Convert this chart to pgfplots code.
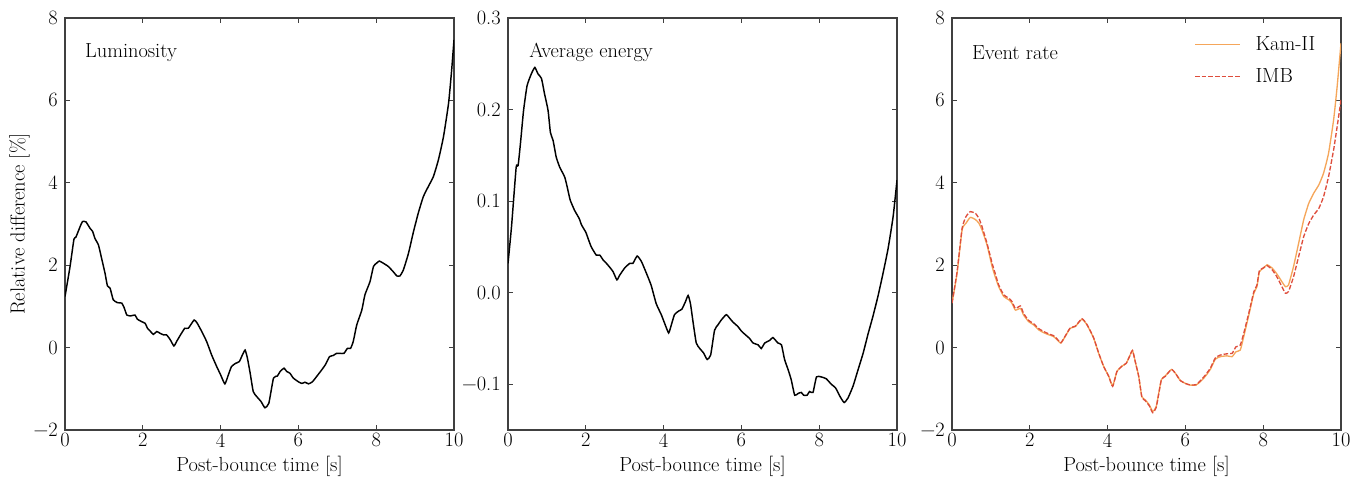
\documentclass[border=0pt]{standalone}
\usepackage{pgfplots}
\pgfplotsset{compat=1.18}
\definecolor{kam}{RGB}{245,166,90}
\definecolor{imb}{RGB}{222,77,60}
\newcommand{\fs}{\fontsize{15.3}{17.5}\selectfont}
\pgfplotsset{
  panel/.style={
    scale only axis, width=291.75pt, height=309pt, anchor=south west,
    xmin=0, xmax=10, xtick={0,2,4,6,8,10},
    xticklabels={0,2,4,6,8,10},
    tick align=inside, major tick length=3.5pt,
    minor tick num=0,
    axis line style={line width=0.8pt, black!75},
    every tick/.style={black!75, line width=0.8pt},
    tick label style={font=\fs},
    label style={font=\fs},
    xlabel={Post-bounce time [s]},
    xticklabel style={yshift=1pt},
    yticklabel style={xshift=-2pt},
    clip=true,
  }
}
\begin{document}
\begin{tikzpicture}
\path[use as bounding box] (0,0) rectangle (1021.5pt,359.25pt);
% Panel 1
\begin{axis}[panel, at={(48.75pt,36.75pt)}, ymin=-2, ymax=8,
  ytick={-2,0,2,4,6,8}, yticklabels={−2,0,2,4,6,8},
  ylabel={Relative difference [\%]}, ylabel style={yshift=-4pt}]
\addplot[black, line width=1.1pt, smooth, tension=0.3] coordinates {
(0,1.24)(0.13,1.97)(0.23,2.63)(0.28,2.68)(0.39,2.94)(0.45,3.06)(0.54,3.05)(0.64,2.9)(0.71,2.82)(0.77,2.65)(0.86,2.49)(0.94,2.17)(1.03,1.80)(1.09,1.50)(1.16,1.44)(1.24,1.16)(1.35,1.09)(1.46,1.08)(1.52,0.97)(1.59,0.79)(1.69,0.77)(1.80,0.79)(1.86,0.69)(1.97,0.63)(2.06,0.59)(2.12,0.47)(2.20,0.39)(2.27,0.32)(2.36,0.39)(2.44,0.35)(2.53,0.31)(2.61,0.31)(2.70,0.20)(2.80,0.04)(2.87,0.15)(2.97,0.31)(3.08,0.47)(3.17,0.47)(3.32,0.67)(3.40,0.59)(3.51,0.40)(3.64,0.15)(3.77,-0.18)(3.90,-0.46)(4.00,-0.66)(4.11,-0.88)(4.20,-0.66)(4.28,-0.46)(4.39,-0.38)(4.48,-0.34)(4.56,-0.18)(4.63,-0.06)(4.69,-0.26)(4.76,-0.62)(4.84,-1.07)(4.93,-1.19)(5.04,-1.31)(5.14,-1.46)(5.24,-1.35)(5.36,-0.74)(5.46,-0.69)(5.53,-0.58)(5.63,-0.50)(5.70,-0.58)(5.78,-0.62)(5.87,-0.74)(6.00,-0.83)(6.09,-0.87)(6.17,-0.84)(6.26,-0.88)(6.36,-0.83)(6.47,-0.70)(6.60,-0.54)(6.69,-0.42)(6.80,-0.22)(6.90,-0.19)(6.98,-0.14)(7.07,-0.14)(7.17,-0.14)(7.26,-0.02)(7.34,-0.02)(7.41,0.15)(7.50,0.55)(7.63,0.91)(7.71,1.28)(7.84,1.60)(7.93,1.97)(8.01,2.05)(8.08,2.10)(8.18,2.05)(8.31,1.97)(8.44,1.84)(8.53,1.74)(8.61,1.74)(8.70,1.89)(8.83,2.29)(8.95,2.78)(9.08,3.26)(9.21,3.66)(9.34,3.91)(9.47,4.15)(9.60,4.56)(9.73,5.12)(9.86,5.93)(9.94,6.74)(10.0,7.47)};
\node[anchor=west, inner sep=0pt, font=\fs] at (rel axis cs:0.051,0.917) {Luminosity};
\end{axis}
% Panel 2
\begin{axis}[panel, at={(381pt,36.75pt)}, ymin=-0.15, ymax=0.3,
  ytick={-0.1,0,0.1,0.2,0.3}, yticklabels={−0.1,0.0,0.1,0.2,0.3}]
\addplot[black, line width=1.1pt, smooth, tension=0.3] coordinates {
(0,0.032)(0.09,0.072)(0.21,0.137)(0.26,0.139)(0.32,0.163)(0.40,0.199)(0.49,0.226)(0.60,0.239)(0.69,0.246)(0.77,0.239)(0.86,0.234)(0.94,0.217)(1.03,0.199)(1.09,0.175)(1.16,0.166)(1.24,0.148)(1.33,0.137)(1.46,0.126)(1.54,0.112)(1.60,0.101)(1.71,0.090)(1.83,0.081)(1.89,0.074)(2.00,0.066)(2.06,0.059)(2.14,0.050)(2.27,0.041)(2.36,0.041)(2.44,0.036)(2.53,0.032)(2.61,0.028)(2.70,0.023)(2.80,0.014)(2.87,0.019)(3.00,0.027)(3.13,0.032)(3.21,0.032)(3.32,0.040)(3.43,0.034)(3.56,0.021)(3.68,0.008)(3.81,-0.012)(3.94,-0.024)(4.04,-0.035)(4.13,-0.044)(4.20,-0.035)(4.28,-0.024)(4.39,-0.020)(4.47,-0.018)(4.56,-0.010)(4.63,-0.003)(4.69,-0.012)(4.76,-0.033)(4.84,-0.055)(4.93,-0.061)(5.03,-0.066)(5.12,-0.073)(5.21,-0.068)(5.31,-0.041)(5.40,-0.035)(5.48,-0.030)(5.61,-0.024)(5.70,-0.028)(5.78,-0.032)(5.91,-0.037)(6.00,-0.042)(6.13,-0.047)(6.21,-0.050)(6.30,-0.055)(6.43,-0.057)(6.51,-0.061)(6.60,-0.055)(6.73,-0.052)(6.81,-0.049)(6.94,-0.055)(7.03,-0.057)(7.11,-0.073)(7.20,-0.084)(7.28,-0.095)(7.37,-0.112)(7.46,-0.110)(7.54,-0.109)(7.60,-0.112)(7.69,-0.112)(7.75,-0.108)(7.84,-0.109)(7.93,-0.092)(8.05,-0.092)(8.18,-0.094)(8.31,-0.100)(8.42,-0.104)(8.53,-0.113)(8.64,-0.120)(8.74,-0.115)(8.87,-0.102)(9.00,-0.084)(9.13,-0.066)(9.25,-0.046)(9.38,-0.026)(9.51,-0.004)(9.64,0.021)(9.77,0.048)(9.90,0.083)(10.0,0.123)};
\node[anchor=west, inner sep=0pt, font=\fs] at (rel axis cs:0.054,0.917) {Average energy};
\end{axis}
% Panel 3
\begin{axis}[panel, at={(714pt,36.75pt)}, ymin=-2, ymax=8,
  ytick={-2,0,2,4,6,8}, yticklabels={−2,0,2,4,6,8},
  legend style={draw=none, fill=none, at={(rel axis cs:0.622,0.962)}, anchor=north west,
    font=\fs, inner sep=0pt, row sep=8pt, column sep=9pt,
    nodes={inner sep=2pt}},
  legend cell align=left,
  legend image code/.code={\draw[#1, sharp plot, line width=1.2pt] (0pt,0pt) -- (33.75pt,0pt);}]
\addplot[kam, line width=1pt, smooth, tension=0.3] coordinates {
(0,1.08)(0.13,1.80)(0.26,2.86)(0.36,3.02)(0.47,3.16)(0.60,3.11)(0.69,3.02)(0.77,2.86)(0.90,2.49)(1.03,1.97)(1.11,1.72)(1.20,1.48)(1.33,1.24)(1.46,1.16)(1.54,1.08)(1.63,0.91)(1.76,0.95)(1.84,0.79)(1.97,0.63)(2.10,0.55)(2.23,0.43)(2.36,0.36)(2.49,0.31)(2.61,0.27)(2.70,0.19)(2.80,0.11)(2.91,0.27)(3.04,0.47)(3.17,0.51)(3.34,0.69)(3.47,0.55)(3.64,0.23)(3.77,-0.14)(3.90,-0.46)(4.03,-0.70)(4.13,-0.93)(4.24,-0.58)(4.37,-0.45)(4.48,-0.38)(4.56,-0.22)(4.64,-0.07)(4.71,-0.34)(4.80,-0.70)(4.88,-1.19)(4.97,-1.27)(5.07,-1.39)(5.16,-1.55)(5.25,-1.43)(5.38,-0.78)(5.48,-0.69)(5.64,-0.53)(5.74,-0.62)(5.87,-0.80)(6.00,-0.87)(6.13,-0.91)(6.27,-0.91)(6.38,-0.83)(6.51,-0.70)(6.64,-0.53)(6.77,-0.28)(6.90,-0.22)(7.07,-0.20)(7.20,-0.22)(7.30,-0.10)(7.41,-0.06)(7.50,0.27)(7.63,0.79)(7.76,1.32)(7.84,1.48)(7.90,1.84)(8.01,1.93)(8.10,2.01)(8.23,1.93)(8.35,1.79)(8.48,1.60)(8.57,1.48)(8.65,1.52)(8.78,1.97)(8.91,2.53)(9.04,3.10)(9.17,3.50)(9.30,3.75)(9.43,3.95)(9.55,4.23)(9.68,4.72)(9.81,5.53)(9.90,6.33)(10.0,7.39)};
\addlegendentry{Kam-II}
\addplot[imb, line width=1pt, dash pattern=on 3.5pt off 1.5pt, smooth, tension=0.3] coordinates {
(0,1.08)(0.13,1.84)(0.26,2.90)(0.36,3.18)(0.47,3.30)(0.60,3.26)(0.69,3.14)(0.77,2.94)(0.90,2.53)(1.03,2.05)(1.11,1.80)(1.20,1.52)(1.33,1.28)(1.46,1.20)(1.54,1.12)(1.63,0.95)(1.76,1.01)(1.84,0.83)(1.97,0.66)(2.10,0.58)(2.23,0.46)(2.36,0.39)(2.49,0.33)(2.61,0.29)(2.70,0.21)(2.80,0.12)(2.91,0.28)(3.04,0.48)(3.17,0.52)(3.34,0.70)(3.47,0.56)(3.64,0.24)(3.77,-0.13)(3.90,-0.46)(4.03,-0.70)(4.13,-0.94)(4.24,-0.58)(4.37,-0.45)(4.48,-0.38)(4.56,-0.22)(4.64,-0.07)(4.71,-0.34)(4.80,-0.70)(4.88,-1.20)(4.97,-1.29)(5.07,-1.41)(5.16,-1.58)(5.25,-1.45)(5.38,-0.79)(5.48,-0.70)(5.64,-0.53)(5.74,-0.62)(5.87,-0.80)(6.00,-0.87)(6.13,-0.91)(6.27,-0.90)(6.38,-0.81)(6.51,-0.67)(6.64,-0.50)(6.77,-0.25)(6.90,-0.18)(7.07,-0.15)(7.20,-0.14)(7.30,0.02)(7.41,0.06)(7.50,0.35)(7.63,0.84)(7.76,1.36)(7.84,1.52)(7.90,1.86)(8.01,1.94)(8.10,1.99)(8.23,1.89)(8.35,1.72)(8.48,1.48)(8.57,1.32)(8.65,1.36)(8.78,1.72)(8.91,2.21)(9.04,2.69)(9.17,3.01)(9.30,3.22)(9.43,3.38)(9.55,3.66)(9.68,4.15)(9.81,4.80)(9.90,5.36)(10.0,6.01)};
\addlegendentry{IMB}
\node[anchor=west, inner sep=0pt, font=\fs] at (rel axis cs:0.051,0.917) {Event rate};
\end{axis}
\end{tikzpicture}
\end{document}
